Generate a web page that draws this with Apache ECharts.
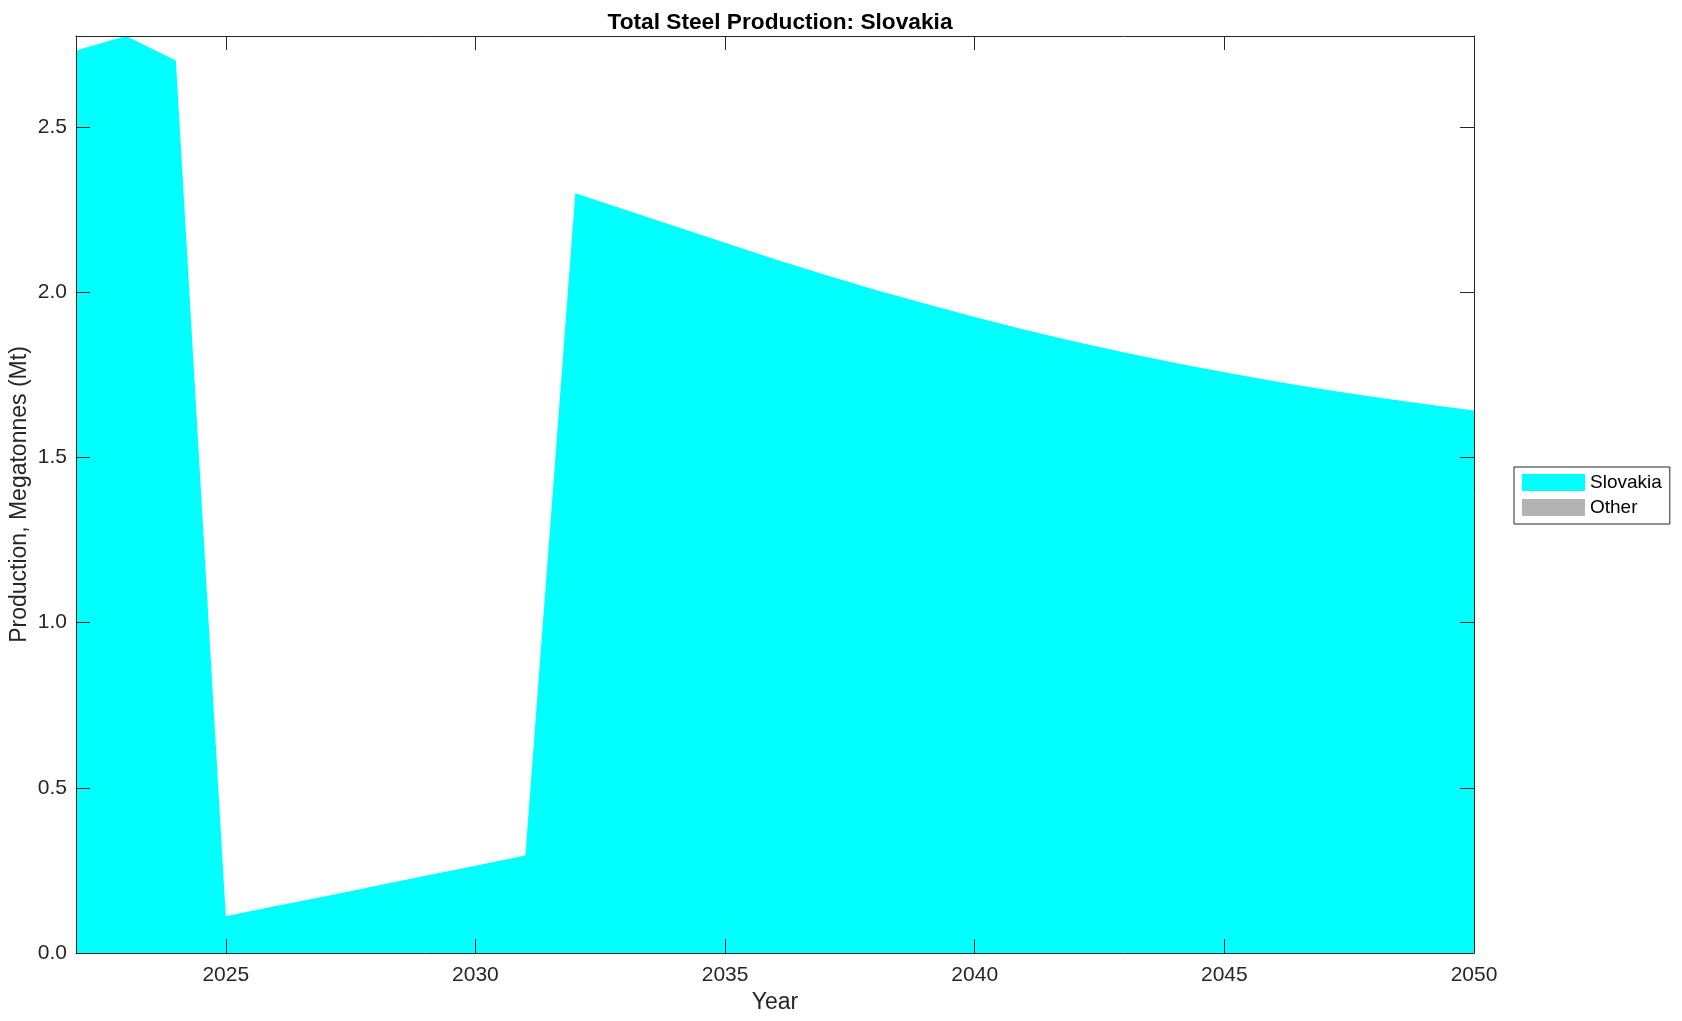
<!DOCTYPE html>
<html>
<head>
<meta charset="utf-8">
<script src="https://cdn.jsdelivr.net/npm/echarts@6/dist/echarts.min.js"></script>
<style>
html,body{margin:0;padding:0;background:#fff;}
#chart{width:1682px;height:1021px;}
</style>
</head>
<body>
<div id="chart"></div>
<script>
const years = [2022,2023,2024,2025,2026,2027,2028,2029,2030,2031,2032,2033,2034,2035,2036,2037,2038,2039,2040,2041,2042,2043,2044,2045,2046,2047,2048,2049,2050];
const slovakia = [2.732,2.776,2.702,0.111,0.142,0.172,0.203,0.234,0.264,0.295,2.300,2.250,2.200,2.150,2.100,2.053,2.008,1.966,1.925,1.887,1.851,1.818,1.787,1.758,1.731,1.706,1.683,1.662,1.642];
const other = [0,0,0,0,0,0,0,0,0,0,0,0,0,0,0,0,0,0,0,0,0,0,0,0,0,0,0,0,0];
const xTicks = [2025,2030,2035,2040,2045,2050];
const yTicks = [0,0.5,1.0,1.5,2.0,2.5];
const seriesNames = ['Slovakia','Other'];
const seriesColors = ['#00ffff','#b3b3b3'];

const FONT = 'Liberation Sans, Arial, Helvetica, sans-serif';
const AX = '#262626';
const chart = echarts.init(document.getElementById('chart'), null, {renderer:'canvas'});

const xBase = {
  type:'value', min:2022, max:2050, z:10,
  axisLine:{show:true, onZero:false, lineStyle:{color:AX, width:1}},
  axisTick:{show:true, inside:true, length:14, customValues:xTicks, lineStyle:{color:AX, width:1}},
  splitLine:{show:false}
};
const yBase = {
  type:'value', min:0, max:2.776, z:10,
  axisLine:{show:true, onZero:false, lineStyle:{color:AX, width:1}},
  axisTick:{show:true, inside:true, length:14, customValues:yTicks, lineStyle:{color:AX, width:1}},
  splitLine:{show:false}
};

chart.setOption({
  animation:false,
  backgroundColor:'#fff',
  title:{
    text:'Total Steel Production: Slovakia',
    left:775, textAlign:'center', top:6,
    textStyle:{fontFamily:FONT, fontWeight:'bold', fontSize:22.7, color:'#000'}
  },
  legend:{
    orient:'vertical', left:1514, top:467,
    borderColor:AX, borderWidth:1, padding:[6,8,7,8],
    itemWidth:63, itemHeight:17, itemGap:6,
    icon:'rect',
    textStyle:{fontFamily:FONT, fontSize:19, color:'#000'},
    data:seriesNames
  },
  grid:{left:76, right:208, top:36, bottom:68, containLabel:false, outerBoundsMode:'none'},
  xAxis:[
    Object.assign({}, xBase, {
      position:'bottom',
      name:'Year', nameLocation:'middle', nameGap:38, nameMoveOverlap:false,
      nameTextStyle:{fontFamily:FONT, fontSize:23, color:AX},
      axisLabel:{show:true, customValues:xTicks, margin:12, fontFamily:FONT, fontSize:21, color:AX, formatter:v=>String(v)}
    }),
    Object.assign({}, xBase, {position:'top', axisLabel:{show:false}})
  ],
  yAxis:[
    Object.assign({}, yBase, {
      position:'left',
      name:'Production, Megatonnes (Mt)', nameLocation:'middle', nameGap:45, nameMoveOverlap:false,
      nameTextStyle:{fontFamily:FONT, fontSize:23, color:AX},
      axisLabel:{show:true, customValues:yTicks, margin:9, fontFamily:FONT, fontSize:21, color:AX, formatter:v=>v.toFixed(1)}
    }),
    Object.assign({}, yBase, {position:'right', axisLabel:{show:false}})
  ],
  series:[
    {
      name:seriesNames[0], type:'line', stack:'total', xAxisIndex:0, yAxisIndex:0,
      data:years.map((y,i)=>[y, slovakia[i]]),
      symbol:'none', showSymbol:false,
      color:seriesColors[0],
      lineStyle:{width:0},
      areaStyle:{color:seriesColors[0], opacity:1},
      z:2
    },
    {
      name:seriesNames[1], type:'line', stack:'total', xAxisIndex:0, yAxisIndex:0,
      data:years.map((y,i)=>[y, other[i]]),
      symbol:'none', showSymbol:false,
      color:seriesColors[1],
      lineStyle:{width:0},
      areaStyle:{color:seriesColors[1], opacity:1},
      z:2
    }
  ]
});
</script>
</body>
</html>
